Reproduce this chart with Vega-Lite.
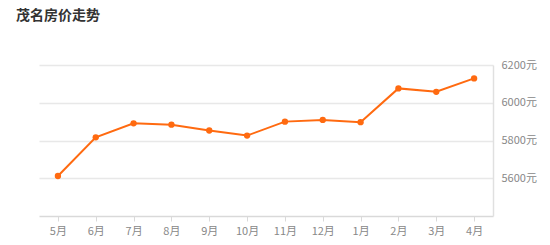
{
  "$schema": "https://vega.github.io/schema/vega-lite/v6.json",
  "autosize": {"type": "none"},
  "width": 454,
  "height": 151,
  "padding": {"left": 39, "top": 65, "right": 57, "bottom": 29},
  "background": "#ffffff",
  "title": {
    "text": "茂名房价走势",
    "anchor": "start",
    "frame": "group",
    "dx": -23,
    "offset": 36,
    "font": "Noto Sans CJK SC",
    "fontSize": 14,
    "fontWeight": "bold",
    "color": "#333333"
  },
  "config": {
    "view": {"stroke": null},
    "axis": {"labelFont": "Noto Sans CJK SC", "labelFontSize": 11, "labelColor": "#888888"}
  },
  "data": {
    "values": [
      {"month": "5月", "price": 5612},
      {"month": "6月", "price": 5817},
      {"month": "7月", "price": 5891},
      {"month": "8月", "price": 5884},
      {"month": "9月", "price": 5853},
      {"month": "10月", "price": 5826},
      {"month": "11月", "price": 5900},
      {"month": "12月", "price": 5909},
      {"month": "1月", "price": 5897},
      {"month": "2月", "price": 6076},
      {"month": "3月", "price": 6058},
      {"month": "4月", "price": 6129}
    ]
  },
  "encoding": {
    "x": {
      "field": "month",
      "type": "ordinal",
      "sort": null,
      "scale": {"type": "point", "padding": 0.5},
      "axis": {
        "title": null,
        "labelAngle": 0,
        "domainColor": "#d9d9d9",
        "domainWidth": 1.5,
        "tickColor": "#d9d9d9",
        "tickSize": 5,
        "labelPadding": 4
      }
    },
    "y": {
      "field": "price",
      "type": "quantitative",
      "scale": {"domain": [5400, 6200], "nice": false, "zero": false},
      "axis": {
        "title": null,
        "orient": "right",
        "values": [5600, 5800, 6000, 6200],
        "labelExpr": "datum.value + '元'",
        "ticks": false,
        "labelPadding": 8,
        "domainColor": "#e0e0e0",
        "domainWidth": 1.5,
        "gridColor": "#e8e8e8",
        "gridWidth": 1.5
      }
    }
  },
  "layer": [
    {"mark": {"type": "line", "color": "#ff6a10", "strokeWidth": 2}},
    {"mark": {"type": "circle", "color": "#ff6a10", "size": 40, "opacity": 1}}
  ]
}
